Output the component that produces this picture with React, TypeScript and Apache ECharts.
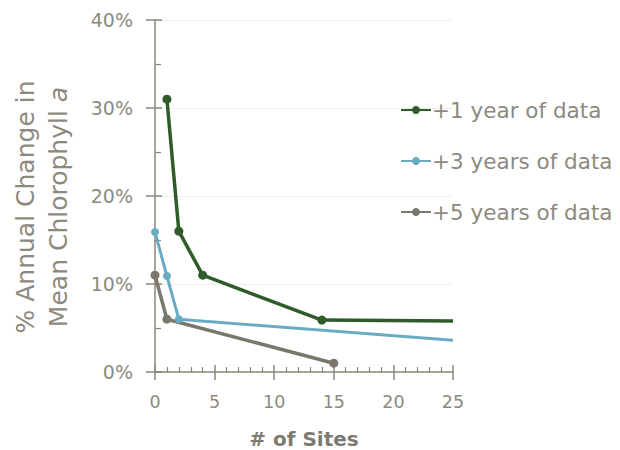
import React, { useEffect, useRef } from "react";
import * as echarts from "echarts";

const seriesNames = ["+1 year of data", "+3 years of data", "+5 years of data"];
const sites1 = [1, 2, 4, 14, 25];
const values1 = [31, 16, 11, 5.9, 5.8];
const sites3 = [0, 1, 2, 25];
const values3 = [15.9, 10.9, 6.0, 3.6];
const sites5 = [0, 1, 15];
const values5 = [11, 6.0, 1.0];
const xTicks = { min: 0, max: 25, interval: 5 };
const yTicks = { min: 0, max: 40, interval: 10 };

const colors = ["#2e5b29", "#6aabc4", "#7a786d"];
const textColor = "#8c8a7e";
const axisColor = "#8a8778";
const FONT = "'DejaVu Sans', sans-serif";

function pairs(xs: number[], ys: number[]) {
  return xs.map((x, i) => [x, ys[i]]);
}

export default function App() {
  const ref = useRef<HTMLDivElement>(null);
  useEffect(() => {
    document.body.style.margin = "0";
    if (!ref.current) return;
    const chart = echarts.init(ref.current, undefined, { renderer: "svg" });
    const sym = (v: number[]) => (v[0] >= xTicks.max ? "none" : "circle");
    const mkSeries = (i: number, data: number[][], width: number, size: number) => ({
      name: seriesNames[i],
      type: "line",
      data,
      xAxisIndex: 0,
      yAxisIndex: 0,
      symbol: sym,
      symbolSize: size,
      showSymbol: true,
      lineStyle: { color: colors[i], width },
      itemStyle: { color: colors[i] },
      z: 10 - i,
    });
    chart.setOption({
      animation: false,
      textStyle: { fontFamily: FONT },
      grid: { left: 155, right: 167, top: 20, bottom: 78, containLabel: false, outerBoundsMode: "none" },
      legend: {
        orient: "vertical",
        left: 400,
        top: 99,
        padding: 0,
        itemWidth: 30,
        itemHeight: 10,
        itemGap: 29,
        textStyle: { fontSize: 21.5, color: textColor, fontFamily: FONT, padding: [0, 0, 0, -4] },
        data: seriesNames,
      },
      xAxis: [
        {
          type: "value",
          ...xTicks,
          position: "bottom",
          name: "# of Sites",
          nameLocation: "middle",
          nameGap: 57,
          nameTextStyle: { fontSize: 20, fontWeight: "bold", color: "#7d7b6f", fontFamily: FONT },
          axisLine: { show: true, lineStyle: { color: axisColor, width: 1.5 } },
          axisTick: { show: true, inside: false, length: 8, lineStyle: { color: axisColor, width: 1.5 } },
          axisLabel: { fontSize: 17.5, color: textColor, margin: 21, fontFamily: FONT },
          splitLine: { show: false },
        },
        {
          type: "value",
          ...xTicks,
          position: "bottom",
          axisLine: { show: false },
          axisTick: { show: true, inside: true, length: 7, lineStyle: { color: axisColor, width: 1.5 } },
          minorTick: { show: true, splitNumber: 5, length: 5, lineStyle: { color: axisColor, width: 1.2 } },
          axisLabel: { show: false },
          splitLine: { show: false },
        },
      ],
      yAxis: [
        {
          type: "value",
          ...yTicks,
          position: "left",
          name: "% Annual Change in\nMean Chlorophyll {i|a}",
          nameLocation: "middle",
          nameRotate: 90,
          nameGap: 80,
          nameTextStyle: {
            fontSize: 25,
            lineHeight: 33,
            color: textColor,
            fontFamily: FONT,
            padding: [0, 22, 0, 0],
            rich: { i: { fontStyle: "italic", fontSize: 25, color: textColor, fontFamily: FONT } },
          },
          axisLine: { show: true, lineStyle: { color: axisColor, width: 1.5 } },
          axisTick: { show: true, inside: false, length: 9, lineStyle: { color: axisColor, width: 1.5 } },
          axisLabel: { fontSize: 19, color: textColor, margin: 22, formatter: "{value}%", fontFamily: FONT },
          splitLine: { show: true, lineStyle: { color: "#efefec", width: 1 } },
        },
        {
          type: "value",
          ...yTicks,
          position: "left",
          axisLine: { show: false },
          axisTick: { show: true, inside: true, length: 7, lineStyle: { color: axisColor, width: 1.5 } },
          minorTick: { show: true, splitNumber: 2, length: 6, lineStyle: { color: axisColor, width: 1.2 } },
          axisLabel: { show: false },
          splitLine: { show: false },
        },
      ],
      series: [
        mkSeries(0, pairs(sites1, values1), 3.5, 9),
        mkSeries(1, pairs(sites3, values3), 3, 8),
        mkSeries(2, pairs(sites5, values5), 3.5, 9),
      ],
    });
    return () => chart.dispose();
  }, []);
  return <div ref={ref} style={{ width: 620, height: 450 }} />;
}
